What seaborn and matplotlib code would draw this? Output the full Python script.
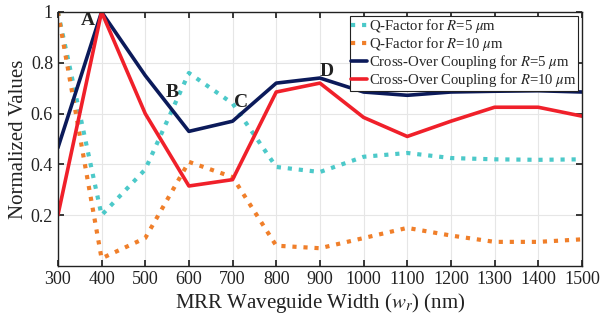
import matplotlib
matplotlib.use("Agg")
import matplotlib.pyplot as plt
import seaborn as sns
import pandas as pd

widths = [300, 400, 500, 600, 700, 800, 900, 1000, 1100, 1200, 1300, 1400, 1500]
q_r5 = [1.0, 0.20, 0.38, 0.76, 0.64, 0.39, 0.37, 0.43, 0.445, 0.425, 0.42, 0.418, 0.42]
q_r10 = [1.0, 0.03, 0.11, 0.41, 0.35, 0.08, 0.07, 0.11, 0.15, 0.12, 0.095, 0.095, 0.105]
c_r5 = [0.465, 1.0, 0.75, 0.53, 0.57, 0.72, 0.74, 0.685, 0.672, 0.685, 0.688, 0.69, 0.685]
c_r10 = [0.2, 1.0, 0.6, 0.315, 0.34, 0.685, 0.72, 0.585, 0.51, 0.57, 0.625, 0.625, 0.59]

labels = [r"Q-Factor for $R$=5 $\mu$m", r"Q-Factor for $R$=10 $\mu$m",
          r"Cross-Over Coupling for $R$=5 $\mu$m", r"Cross-Over Coupling for $R$=10 $\mu$m"]
colors = ["#4cc9c9", "#f07f2a", "#0b1a5a", "#f0202a"]
styles = [":", ":", "-", "-"]

annot_text = ["A", "B", "C", "D"]
annot_x = [368, 562, 720, 915]
annot_y = [0.965, 0.685, 0.645, 0.765]

sns.set_theme(style="white")
plt.rcParams["font.family"] = ["Liberation Serif", "DejaVu Serif"]
plt.rcParams["mathtext.fontset"] = "stix"

df = pd.DataFrame({"w": widths * 4,
                   "v": q_r5 + q_r10 + c_r5 + c_r10,
                   "s": sum([[l] * len(widths) for l in labels], [])})

fig = plt.figure(figsize=(6.03, 3.24), dpi=100)
ax = fig.add_axes([0.096, 0.179, 0.869, 0.784])
for lab, col, ls in zip(labels, colors, styles):
    sub = df[df["s"] == lab]
    sns.lineplot(data=sub, x="w", y="v", ax=ax, color=col, linestyle=ls,
                 linewidth=2.6 if ls == "-" else 3.0, label=lab)

for t, x, y in zip(annot_text, annot_x, annot_y):
    ax.text(x, y, t, fontsize=14, fontweight="bold", ha="center", va="center", color="#222222")

ax.set_xlim(300, 1500)
ax.set_ylim(0, 1)
ax.set_xticks(widths)
ax.set_yticks([0.2, 0.4, 0.6, 0.8, 1.0])
ax.set_yticklabels(["0.2", "0.4", "0.6", "0.8", "1"])
ax.tick_params(direction="in", length=4, labelsize=13, colors="#222222", top=True, right=True,
               bottom=True, left=True, labeltop=False, labelright=False)
ax.grid(True, color="#e6e6e6", linewidth=0.8)
for sp in ax.spines.values():
    sp.set_color("#222222")
    sp.set_linewidth(1.0)
ax.set_xlabel(r"MRR Waveguide Width ($w_r$) (nm)", fontsize=15, color="#222222", labelpad=2)
ax.set_ylabel("Normalized Values", fontsize=15, color="#222222", labelpad=2)

leg = ax.legend(loc="upper right", fontsize=10.6, frameon=True, fancybox=False,
                handlelength=1.1, handletextpad=0.1, borderpad=0.1, labelspacing=0.0,
                borderaxespad=0.25)
leg.get_frame().set_edgecolor("#222222")
leg.get_frame().set_linewidth(0.8)
leg.get_frame().set_alpha(1)

fig.savefig("out.png", dpi=100)
